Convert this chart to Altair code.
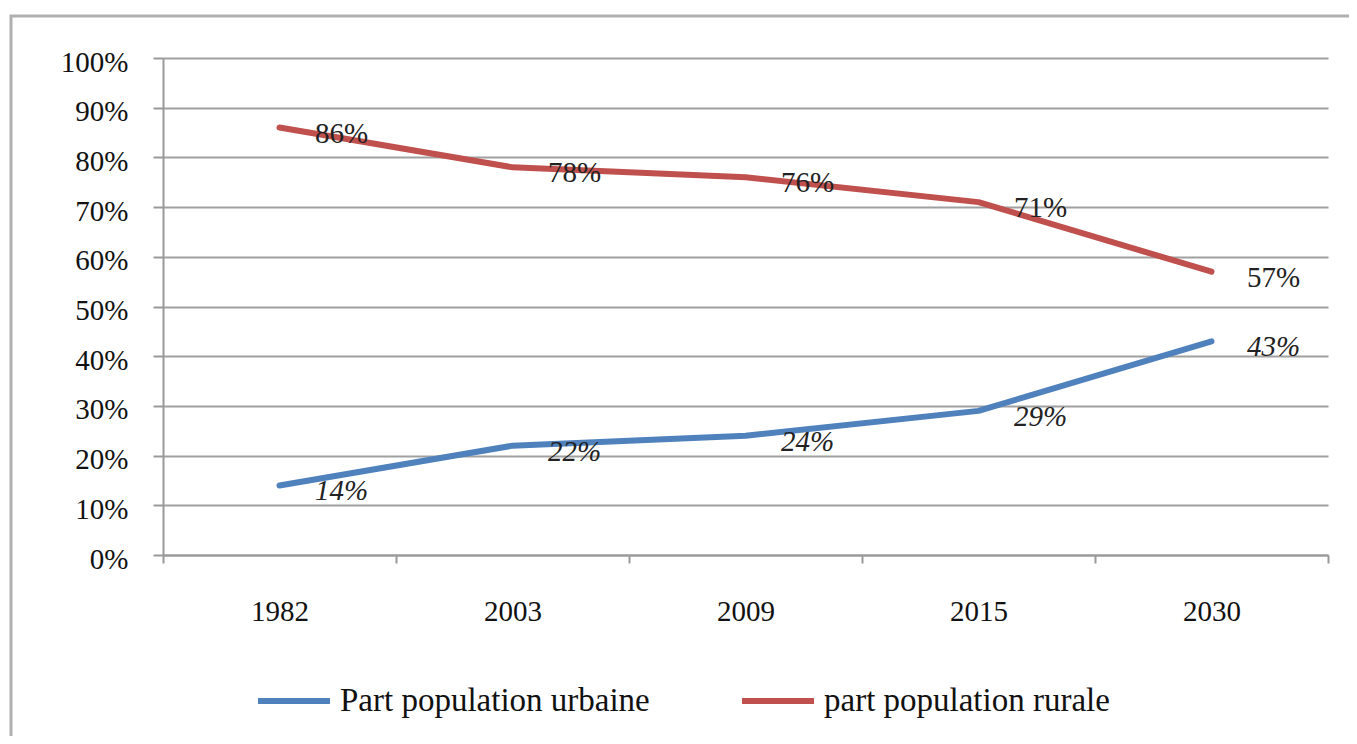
import altair as alt
import pandas as pd

years = ["1982", "2003", "2009", "2015", "2030"]
urbaine = [0.14, 0.22, 0.24, 0.29, 0.43]
rurale = [0.86, 0.78, 0.76, 0.71, 0.57]
labels_urbaine = ["14%", "22%", "24%", "29%", "43%"]
labels_rurale = ["86%", "78%", "76%", "71%", "57%"]
series_names = ["Part population urbaine", "part population rurale"]
colors = ["#4F81BD", "#C0504D"]

rows = []
for y, v, l in zip(years, urbaine, labels_urbaine):
    rows.append({"annee": y, "valeur": v, "serie": series_names[0], "label": l})
for y, v, l in zip(years, rurale, labels_rurale):
    rows.append({"annee": y, "valeur": v, "serie": series_names[1], "label": l})
df = pd.DataFrame(rows)

FONT = "Liberation Serif"

x_enc = alt.X("annee:N", sort=years, title=None,
              scale=alt.Scale(paddingInner=0, paddingOuter=0),
              axis=alt.Axis(labelAngle=0, tickBand="extent", tickSize=8,
                            labelPadding=34, labelFontSize=29, labelFont=FONT,
                            grid=False))
y_enc = alt.Y("valeur:Q", title=None,
              scale=alt.Scale(domain=[0, 1]),
              axis=alt.Axis(format=".0%", values=[i / 10 for i in range(11)],
                            tickSize=10, labelPadding=25, labelFontSize=29,
                            labelFont=FONT, labelOffset=4))

base = alt.Chart(df)

lines = base.mark_line(strokeWidth=6, interpolate="linear", strokeCap="round",
                       strokeJoin="round").encode(
    x=x_enc,
    y=y_enc,
    color=alt.Color("serie:N", scale=alt.Scale(domain=series_names, range=colors),
                    sort=series_names,
                    legend=alt.Legend(title=None, orient="none", direction="horizontal",
                                      legendX=92, legendY=604,
                                      symbolType="stroke", symbolSize=5184,
                                      symbolStrokeWidth=6, labelFontSize=33,
                                      labelFont=FONT, columnPadding=80,
                                      labelOffset=7, labelColor="#111",
                                      labelLimit=600)),
)

txt_u = base.transform_filter(alt.datum.serie == series_names[0]).mark_text(
    dx=62, dy=6, fontSize=29, font=FONT, fontStyle="italic", color="#222"
).encode(x=alt.X("annee:N", sort=years), y="valeur:Q", text="label:N")

txt_r = base.transform_filter(alt.datum.serie == series_names[1]).mark_text(
    dx=62, dy=6, fontSize=29, font=FONT, color="#222"
).encode(x=alt.X("annee:N", sort=years), y="valeur:Q", text="label:N")

border = alt.Chart(pd.DataFrame({"a": [0]})).mark_rect(
    fillOpacity=0, stroke="#b0b0b0", strokeWidth=3
).encode(x=alt.value(-152), x2=alt.value(1400), y=alt.value(-42), y2=alt.value(900))

chart = alt.layer(border, lines, txt_u, txt_r).properties(
    width=1165, height=497,
    background="white",
    autosize=alt.AutoSizeParams(type="none"),
    padding={"left": 155, "top": 50, "right": 21, "bottom": 181},
).configure_view(stroke=None).configure_axis(
    labelFont=FONT, labelColor="#111", domainColor="#999", domainWidth=2,
    tickColor="#999", tickWidth=2, gridColor="#a0a0a0", gridWidth=2
)

chart.save("out.html", embed_options={"renderer": "svg", "actions": False})
